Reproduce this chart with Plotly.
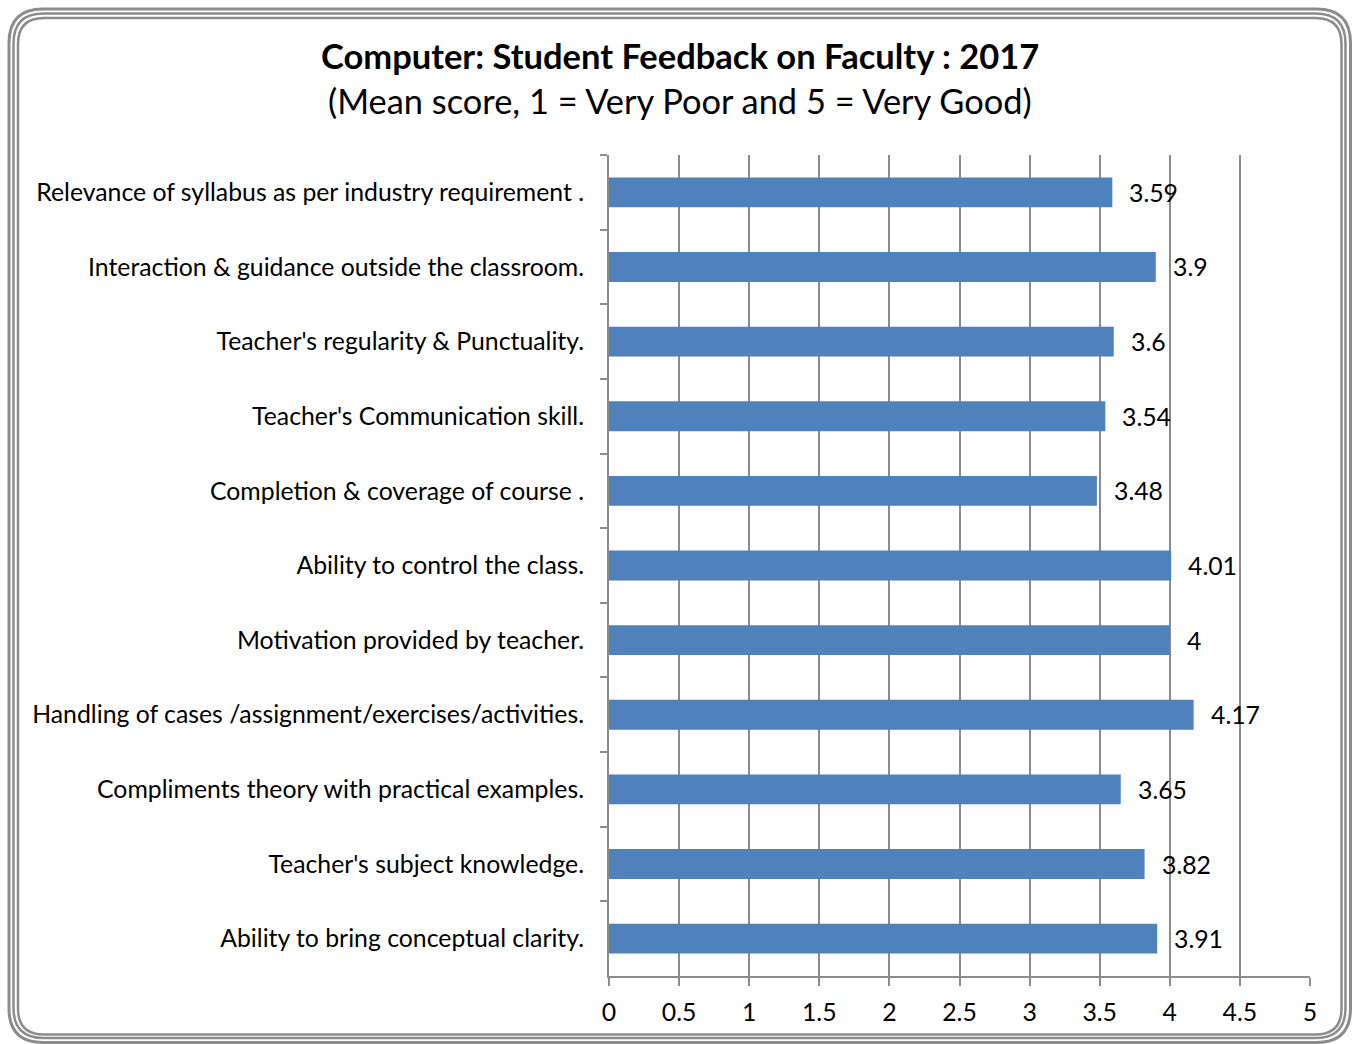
import plotly.graph_objects as go

categories = [
    "Relevance of syllabus as per industry requirement .",
    "Interaction & guidance outside the classroom.",
    "Teacher's regularity & Punctuality.",
    "Teacher's Communication skill.",
    "Completion & coverage of course .",
    "Ability to control the class.",
    "Motivation provided by teacher.",
    "Handling of cases /assignment/exercises/activities.",
    "Compliments theory with practical examples.",
    "Teacher's subject knowledge.",
    "Ability to bring conceptual clarity.",
]
scores = [3.59, 3.9, 3.6, 3.54, 3.48, 4.01, 4, 4.17, 3.65, 3.82, 3.91]
score_labels = ["3.59", "3.9", "3.6", "3.54", "3.48", "4.01", "4", "4.17", "3.65", "3.82", "3.91"]
x_ticks = [0, 0.5, 1, 1.5, 2, 2.5, 3, 3.5, 4, 4.5, 5]
x_tick_text = ["0", "0.5", "1", "1.5", "2", "2.5", "3", "3.5", "4", "4.5", "5"]

W, H = 1356, 1044
L, R, T, B = 609, 1310, 155, 976
FONT = "Lato"
FS = 24.8
GRAY = "#8c8c8c"

fig = go.Figure()
fig.add_trace(go.Bar(
    x=scores, y=categories, orientation="h",
    marker=dict(color="#4F81BD", line=dict(width=0)),
    width=0.4, hoverinfo="x+y",
))

for c, v, t in zip(categories, scores, score_labels):
    fig.add_annotation(x=v, y=c, text=t, showarrow=False, xanchor="left",
                       xshift=15, font=dict(family=FONT, size=FS, color="#000"))

def px_to_paper(x, y):
    return (x - L) / (R - L), (B - y) / (B - T)

def rrect(x0, y0, x1, y1, r):
    def p(x, y):
        px, py = px_to_paper(x, y)
        return f"{px:.5f},{py:.5f}"
    return (f"M {p(x0 + r, y0)} L {p(x1 - r, y0)} "
            f"Q {p(x1, y0)} {p(x1, y0 + r)} L {p(x1, y1 - r)} "
            f"Q {p(x1, y1)} {p(x1 - r, y1)} L {p(x0 + r, y1)} "
            f"Q {p(x0, y1)} {p(x0, y1 - r)} L {p(x0, y0 + r)} "
            f"Q {p(x0, y0)} {p(x0 + r, y0)} Z")

for (x0, y0, x1, y1, r, w) in [
    (9, 9, 1350.5, 1042.5, 34, 3),
    (13.5, 13.5, 1345.5, 1038, 30, 2.5),
    (18, 18, 1341.5, 1034.5, 26, 2.5),
]:
    fig.add_shape(type="path", path=rrect(x0, y0, x1, y1, r), xref="paper", yref="paper",
                  line=dict(color=GRAY, width=w), fillcolor="rgba(0,0,0,0)", layer="above")

tx, ty1 = px_to_paper(680, 55)
_, ty2 = px_to_paper(680, 101)
fig.add_annotation(x=tx, y=ty1, xref="paper", yref="paper",
                   text="<b>Computer: Student Feedback on Faculty : 2017</b>", showarrow=False,
                   font=dict(family=FONT, size=34.5, color="#000"), xanchor="center", yanchor="middle")
fig.add_annotation(x=tx, y=ty2, xref="paper", yref="paper",
                   text="(Mean score, 1 = Very Poor and 5 = Very Good)", showarrow=False,
                   font=dict(family=FONT, size=34.4, color="#000"), xanchor="center", yanchor="middle")

fig.update_layout(
    width=W, height=H,
    margin=dict(l=L, r=W - R, t=T, b=H - B, pad=0),
    paper_bgcolor="white", plot_bgcolor="white",
    showlegend=False,
    font=dict(family=FONT, size=FS, color="#000"),
    bargap=0.6,
)
fig.update_xaxes(
    range=[0, 5], tickvals=x_ticks, ticktext=x_tick_text,
    showgrid=True, gridcolor=GRAY, gridwidth=2,
    showline=True, linecolor=GRAY, linewidth=2,
    ticks="outside", ticklen=8, tickwidth=2, tickcolor=GRAY,
    tickfont=dict(family=FONT, size=FS, color="#000"),
    ticklabelstandoff=5,
    zeroline=False, fixedrange=True,
)
fig.update_yaxes(
    autorange="reversed", showgrid=False,
    showline=True, linecolor=GRAY, linewidth=2,
    ticks="outside", tickson="boundaries", ticklen=7, tickwidth=2, tickcolor=GRAY,
    tickfont=dict(family=FONT, size=FS, color="#000"),
    ticklabelstandoff=18, fixedrange=True,
)

fig.write_html("out.html", config={"displayModeBar": False},
               post_script="document.body.style.margin='0';document.body.style.overflow='hidden';")
